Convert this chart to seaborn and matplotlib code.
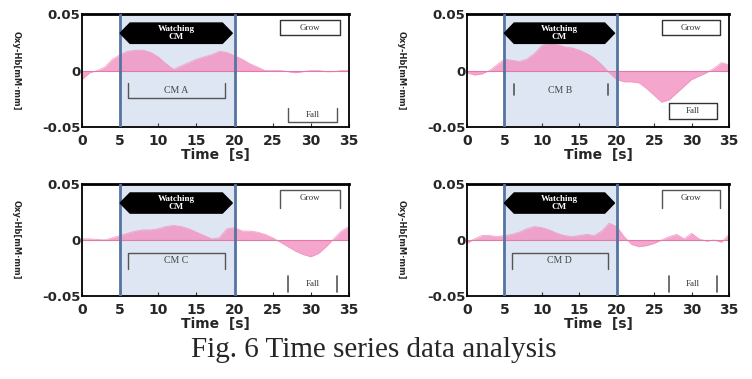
import numpy as np
import pandas as pd
import matplotlib
matplotlib.use("Agg")
import matplotlib.pyplot as plt
from matplotlib.patches import Polygon
import seaborn as sns

# time axis [s]
time_s = list(range(0, 36))

# Oxy-Hb change per CM (1 s steps)
cm_a = [-0.008, -0.002, 0.0, 0.003, 0.010, 0.014, 0.017, 0.018, 0.018, 0.016,
        0.012, 0.006, 0.001, 0.004, 0.007, 0.010, 0.012, 0.014, 0.017, 0.016,
        0.013, 0.010, 0.006, 0.003, 0.0, 0.0, 0.0, -0.001, -0.002, -0.001,
        0.0, 0.0, -0.001, -0.001, 0.0, 0.0]
cm_b = [-0.002, -0.004, -0.003, 0.0, 0.005, 0.010, 0.009, 0.008, 0.010, 0.015,
        0.022, 0.025, 0.023, 0.021, 0.020, 0.018, 0.015, 0.011, 0.005, -0.002,
        -0.008, -0.010, -0.010, -0.011, -0.016, -0.022, -0.028, -0.026, -0.020, -0.014,
        -0.008, -0.005, -0.002, 0.002, 0.007, 0.005]
cm_c = [0.001, 0.001, 0.0005, 0.0, 0.002, 0.004, 0.006, 0.008, 0.009, 0.009,
        0.010, 0.012, 0.013, 0.012, 0.010, 0.007, 0.004, 0.001, 0.002, 0.010,
        0.011, 0.008, 0.008, 0.007, 0.005, 0.002, -0.002, -0.006, -0.010, -0.013,
        -0.015, -0.012, -0.006, 0.001, 0.008, 0.012]
cm_d = [-0.003, 0.001, 0.004, 0.004, 0.003, 0.004, 0.005, 0.007, 0.010, 0.012,
        0.011, 0.009, 0.006, 0.004, 0.003, 0.004, 0.005, 0.004, 0.008, 0.015,
        0.012, 0.003, -0.004, -0.006, -0.005, -0.003, 0.0, 0.003, 0.005, 0.001,
        0.006, 0.001, -0.001, 0.0, -0.002, 0.005]

cm_names = ["CM A", "CM B", "CM C", "CM D"]
watch_labels = ["Watching\nCM", "Watching\nCM", "Watching\nCM", "Watching\nCM"]
watch_start, watch_end = 5, 20
xticks = [0, 5, 10, 15, 20, 25, 30, 35]
yticks = [-0.05, 0, 0.05]
yticklabels = ["-0.05", "0", "0.05"]

df = pd.DataFrame({"time": time_s * 4,
                   "oxy": cm_a + cm_b + cm_c + cm_d,
                   "cm": sum([[n] * len(time_s) for n in cm_names], [])})

sns.set_style("ticks")
plt.rcParams["font.family"] = ["DejaVu Sans"]

PINK = "#f390c0"
SPAN = "#dde6f2"
VLINE = "#55749f"

fig = plt.figure(figsize=(7.52, 3.79), dpi=100)
W, H = 752, 379
boxes = [(82, 14, 267, 113), (467, 14, 262, 113),
         (82, 184, 267, 112), (467, 184, 262, 112)]

for i, name in enumerate(cm_names):
    l, t, w, h = boxes[i]
    ax = fig.add_axes([l / W, 1 - (t + h) / H, w / W, h / H])
    sub = df[df["cm"] == name]

    ax.axvspan(watch_start, watch_end, color=SPAN, zorder=0)
    ax.fill_between(sub["time"], 0, sub["oxy"], color=PINK, alpha=0.8, lw=0, zorder=1)
    sns.lineplot(data=sub, x="time", y="oxy", ax=ax, color=PINK, lw=0.6, alpha=0.8, zorder=2)
    ax.axhline(0, color="#e07aa8", lw=0.8, zorder=2)
    for xv in (watch_start, watch_end):
        ax.axvline(xv, color=VLINE, lw=2, zorder=3)

    # black hexagon "Watching CM"
    hx = [watch_start, watch_start + 1.3, watch_end - 1.6, watch_end - 0.3,
          watch_end - 1.6, watch_start + 1.3]
    hy = [0.033, 0.042, 0.042, 0.033, 0.024, 0.024]
    ax.add_patch(Polygon(list(zip(hx, hy)), closed=True, color="black", zorder=4))
    ax.text((watch_start + watch_end - 0.3) / 2, 0.033, watch_labels[i], color="white",
            ha="center", va="center", fontsize=6.5, family="Liberation Serif",
            fontweight="bold", linespacing=0.95, zorder=5)

    # CM bracket
    bx0, bx1 = 6.0, 18.8
    if i == 0:
        ax.plot([bx0, bx0, bx1, bx1], [-0.011, -0.0245, -0.0245, -0.011], color="#555555", lw=1)
    elif i == 1:
        ax.plot([bx0 + 0.3, bx0 + 0.3], [-0.012, -0.022], color="#555555", lw=1.2)
        ax.plot([bx1, bx1], [-0.012, -0.022], color="#555555", lw=1.2)
    else:
        ax.plot([bx0, bx0, bx1, bx1], [-0.026, -0.012, -0.012, -0.026], color="#555555", lw=1)
    ax.text((bx0 + bx1) / 2, -0.018, name, ha="center", va="center", fontsize=7,
            family="Liberation Serif", color="#444444")

    # Grow / Fall markers
    gx0, gx1 = 26.0, 33.8
    if i < 2:
        ax.plot([gx0, gx1, gx1, gx0, gx0], [0.031, 0.031, 0.0445, 0.0445, 0.031], color="#333333", lw=1)
    else:
        ax.plot([gx0, gx0, gx1, gx1], [0.029, 0.0445, 0.0445, 0.029], color="#555555", lw=1)
    ax.text((gx0 + gx1) / 2, 0.0378, "Grow", ha="center", va="center", fontsize=6.5,
            family="Liberation Serif", color="#333333")
    fx0, fx1 = 27.0, 33.4
    if i == 0:
        ax.plot([fx0, fx0, fx1, fx1], [-0.033, -0.046, -0.046, -0.033], color="#555555", lw=1)
    elif i == 1:
        ax.plot([fx0, fx1, fx1, fx0, fx0], [-0.043, -0.043, -0.029, -0.029, -0.043], color="#333333", lw=1)
    else:
        ax.plot([fx0, fx0], [-0.032, -0.046], color="#555555", lw=1.2)
        ax.plot([fx1, fx1], [-0.032, -0.046], color="#555555", lw=1.2)
    ax.text((fx0 + fx1) / 2, -0.036 if i == 1 else -0.039, "Fall", ha="center", va="center",
            fontsize=6.5, family="Liberation Serif", color="#333333")

    ax.set_xlim(0, 35)
    ax.set_ylim(-0.05, 0.05)
    ax.set_xticks(xticks)
    ax.set_xticklabels([str(v) for v in xticks], fontsize=10, fontweight="heavy")
    ax.set_yticks(yticks)
    ax.set_yticklabels(yticklabels, fontsize=9.5, fontweight="heavy")
    ax.tick_params(axis="x", direction="in", length=3, pad=5, color="#333333")
    ax.tick_params(axis="y", length=0, pad=1)
    ax.set_xlabel("Time  [s]", fontsize=10, fontweight="heavy", labelpad=0)
    ax.set_ylabel("Oxy-Hb[mM·mm]", fontsize=6, fontweight="bold", rotation=270)
    ax.yaxis.set_label_coords(-70 / w, 0.5)
    for s in ax.spines.values():
        s.set_visible(True)
        s.set_color("black")
        s.set_linewidth(1.3)
    ax.spines["top"].set_linewidth(2)

fig.text(0.497, 1 - 357 / H, "Fig. 6 Time series data analysis", ha="center", va="baseline",
         fontsize=21, family="Liberation Serif")

fig.savefig("out.png", dpi=100)
